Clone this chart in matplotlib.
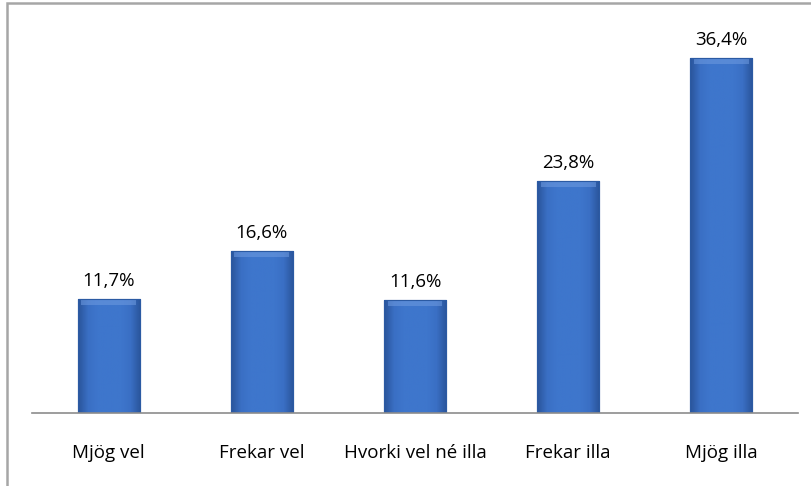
import matplotlib
matplotlib.use("Agg")
import matplotlib.pyplot as plt
import numpy as np
from matplotlib.patches import Rectangle
from matplotlib.colors import LinearSegmentedColormap

categories = ["Mjög vel", "Frekar vel", "Hvorki vel né illa", "Frekar illa", "Mjög illa"]
values = [11.7, 16.6, 11.6, 23.8, 36.4]
labels = ["11,7%", "16,6%", "11,6%", "23,8%", "36,4%"]

W, H = 811, 486
plt.rcParams['font.family'] = ['Open Sans', 'DejaVu Sans']
fig = plt.figure(figsize=(W/100, H/100), dpi=100)

# outer border (cropped on right/bottom)
fig.patches.append(Rectangle((7/W, -0.1), 1.2, (1 - 3/H) + 0.1, transform=fig.transFigure,
                             fill=False, edgecolor='#a6a6a6', linewidth=1.8))

ax = fig.add_axes([32/W, 1 - 413/H, (798 - 32)/W, (413 - 23)/H])
ax.set_xlim(-0.5, len(categories) - 0.5)
ax.set_ylim(0, 40)

x = np.arange(len(categories))
bw = 0.405
bars = ax.bar(x, values, width=bw, color='#3a70c6', edgecolor='#2b5aa3', linewidth=0.8, zorder=2)

# horizontal gradient overlay for bevel look
grad = np.linspace(0, 1, 64)
prof = 1 - np.abs(grad - 0.5) * 2
cmap = LinearSegmentedColormap.from_list('b', ['#2a559b', '#3a6fc4', '#3e76cc'])
for b in bars:
    x0, y0 = b.get_x(), b.get_y()
    w, h = b.get_width(), b.get_height()
    img = np.tile(np.clip(prof * 1.6, 0, 1), (2, 1))
    im = ax.imshow(img, extent=[x0, x0 + w, y0, y0 + h], aspect='auto', cmap=cmap,
                   origin='lower', zorder=2.1)
    im.set_clip_path(b)
    # top bevel highlight
    ax.add_patch(Rectangle((x0 + w*0.06, y0 + h - 0.6), w*0.88, 0.5, facecolor='#6f9be0',
                           edgecolor='none', alpha=0.55, zorder=2.2))
    ax.add_patch(Rectangle((x0, y0), w, h, fill=False, edgecolor='#2b5aa3', linewidth=0.8, zorder=2.3))

for xi, v, lab in zip(x, values, labels):
    ax.text(xi, v + 0.9, lab, ha='center', va='bottom', fontsize=13.5, color='#000000')

for s in ['top', 'right', 'left']:
    ax.spines[s].set_visible(False)
ax.spines['bottom'].set_color('#8c8c8c')
ax.spines['bottom'].set_linewidth(1.2)
ax.set_yticks([])
ax.set_xticks(x)
ax.set_xticklabels(categories, fontsize=13.5)
ax.tick_params(axis='x', length=0, pad=22)

fig.savefig("out.png", dpi=100)
